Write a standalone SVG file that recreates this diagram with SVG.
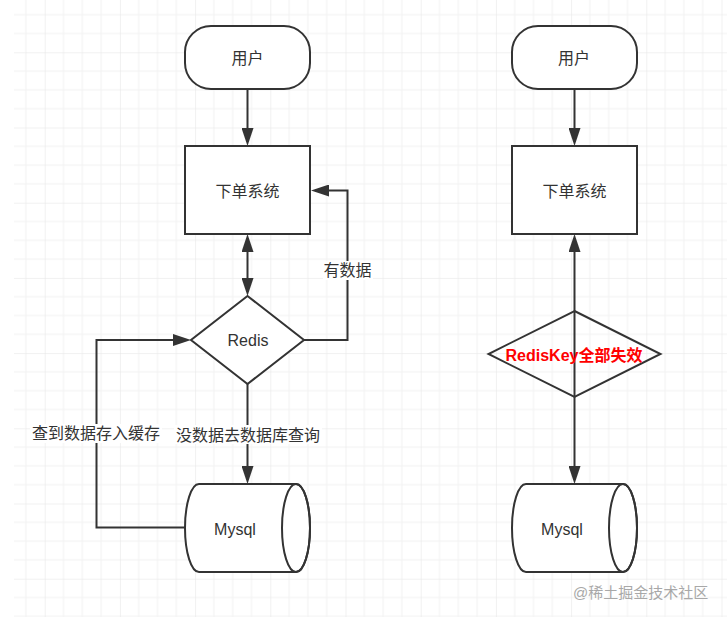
<svg xmlns="http://www.w3.org/2000/svg" width="727" height="617" viewBox="0 0 727 617">
<style>
.shape{fill:#fff;stroke:#333;stroke-width:2}
.hollow{fill:none;stroke:#333;stroke-width:2}
.conn{fill:none;stroke:#333;stroke-width:2}
.arr{marker-end:url(#ah)}
.both{marker-start:url(#ah);marker-end:url(#ah)}
text{font-family:"Liberation Sans","Noto Sans CJK SC",sans-serif;font-size:16px;fill:#333;text-anchor:middle;dominant-baseline:central}
.red{fill:#ff0000;font-weight:bold}
.lbg{fill:#fff}
.wm{fill:#a8a8a8;font-size:15px;text-anchor:start}
</style>
<defs>
<pattern id="grid" patternUnits="userSpaceOnUse" x="-30.5" y="-22.9" width="75.2" height="75.2">
<path d="M18.8,0V75.2M37.6,0V75.2M56.4,0V75.2M0,18.8H75.2M0,37.6H75.2M0,56.4H75.2" stroke="#f2f2f2" stroke-width="1" fill="none"/>
<path d="M0,0V75.2M0,0H75.2" stroke="#e4e4e4" stroke-width="1" fill="none"/>
</pattern>
<marker id="ah" viewBox="0 0 18 12" refX="14" refY="6" markerWidth="18" markerHeight="12" markerUnits="userSpaceOnUse" orient="auto-start-reverse">
<path d="M0,0L18,6L0,12Z" fill="#333"/>
</marker>
</defs>
<rect width="727" height="617" fill="#fff"/>
<rect x="14" y="0" width="713" height="617" fill="url(#grid)"/>

<g id="connectors">
<path class="conn arr" d="M247.5,89V142"/>
<path class="conn both" d="M247.5,238V292"/>
<path class="conn arr" d="M304,340H347.5V190.5H315"/>
<path class="conn arr" d="M247.5,384V480"/>
<path class="conn arr" d="M185,527.5H96.5V340H187"/>
<path class="conn arr" d="M574.5,89V142"/>
<path class="conn both" d="M574.5,238V480"/>
<g id="label-hasdata"><rect class="lbg" x="323" y="261" width="50" height="19"/><text x="347.5" y="270.5">有数据</text></g>
<g id="label-cache"><rect class="lbg" x="30" y="424" width="132" height="19"/><text x="96" y="433.5">查到数据存入缓存</text></g>
<g id="label-nodata"><rect class="lbg" x="174" y="425" width="148" height="19"/><text x="248" y="435">没数据去数据库查询</text></g>
</g>

<g id="user-left"><rect class="shape" x="185" y="26" width="125" height="63" rx="26"/><text x="247.5" y="58.5">用户</text></g>
<g id="order-left"><rect class="shape" x="185" y="146" width="125" height="88"/><text x="247.5" y="191">下单系统</text></g>
<g id="redis"><path class="shape" d="M247.5,296L304,340L247.5,384L191,340Z"/><text x="248" y="340.5">Redis</text></g>
<g id="mysql-left"><path class="shape" d="M199,484H296A14,44 0 0 1 296,572H199A14,44 0 0 1 199,484Z"/><ellipse class="hollow" cx="296" cy="528" rx="14" ry="44"/><text x="235" y="529">Mysql</text></g>

<g id="user-right"><rect class="shape" x="512" y="26" width="125" height="63" rx="26"/><text x="574" y="58.5">用户</text></g>
<g id="order-right"><rect class="shape" x="512" y="146" width="125" height="88"/><text x="574.5" y="191.5">下单系统</text></g>
<g id="rediskey"><path class="hollow" d="M574.5,311L660.5,354L574.5,397L488.5,354Z"/><text class="red" x="574" y="355.5">RedisKey全部失效</text></g>
<g id="mysql-right"><path class="shape" d="M526,484H623A14,44 0 0 1 623,572H526A14,44 0 0 1 526,484Z"/><ellipse class="hollow" cx="623" cy="528" rx="14" ry="44"/><text x="562" y="529">Mysql</text></g>

<text class="wm" x="573" y="592">@稀土掘金技术社区</text>
</svg>
